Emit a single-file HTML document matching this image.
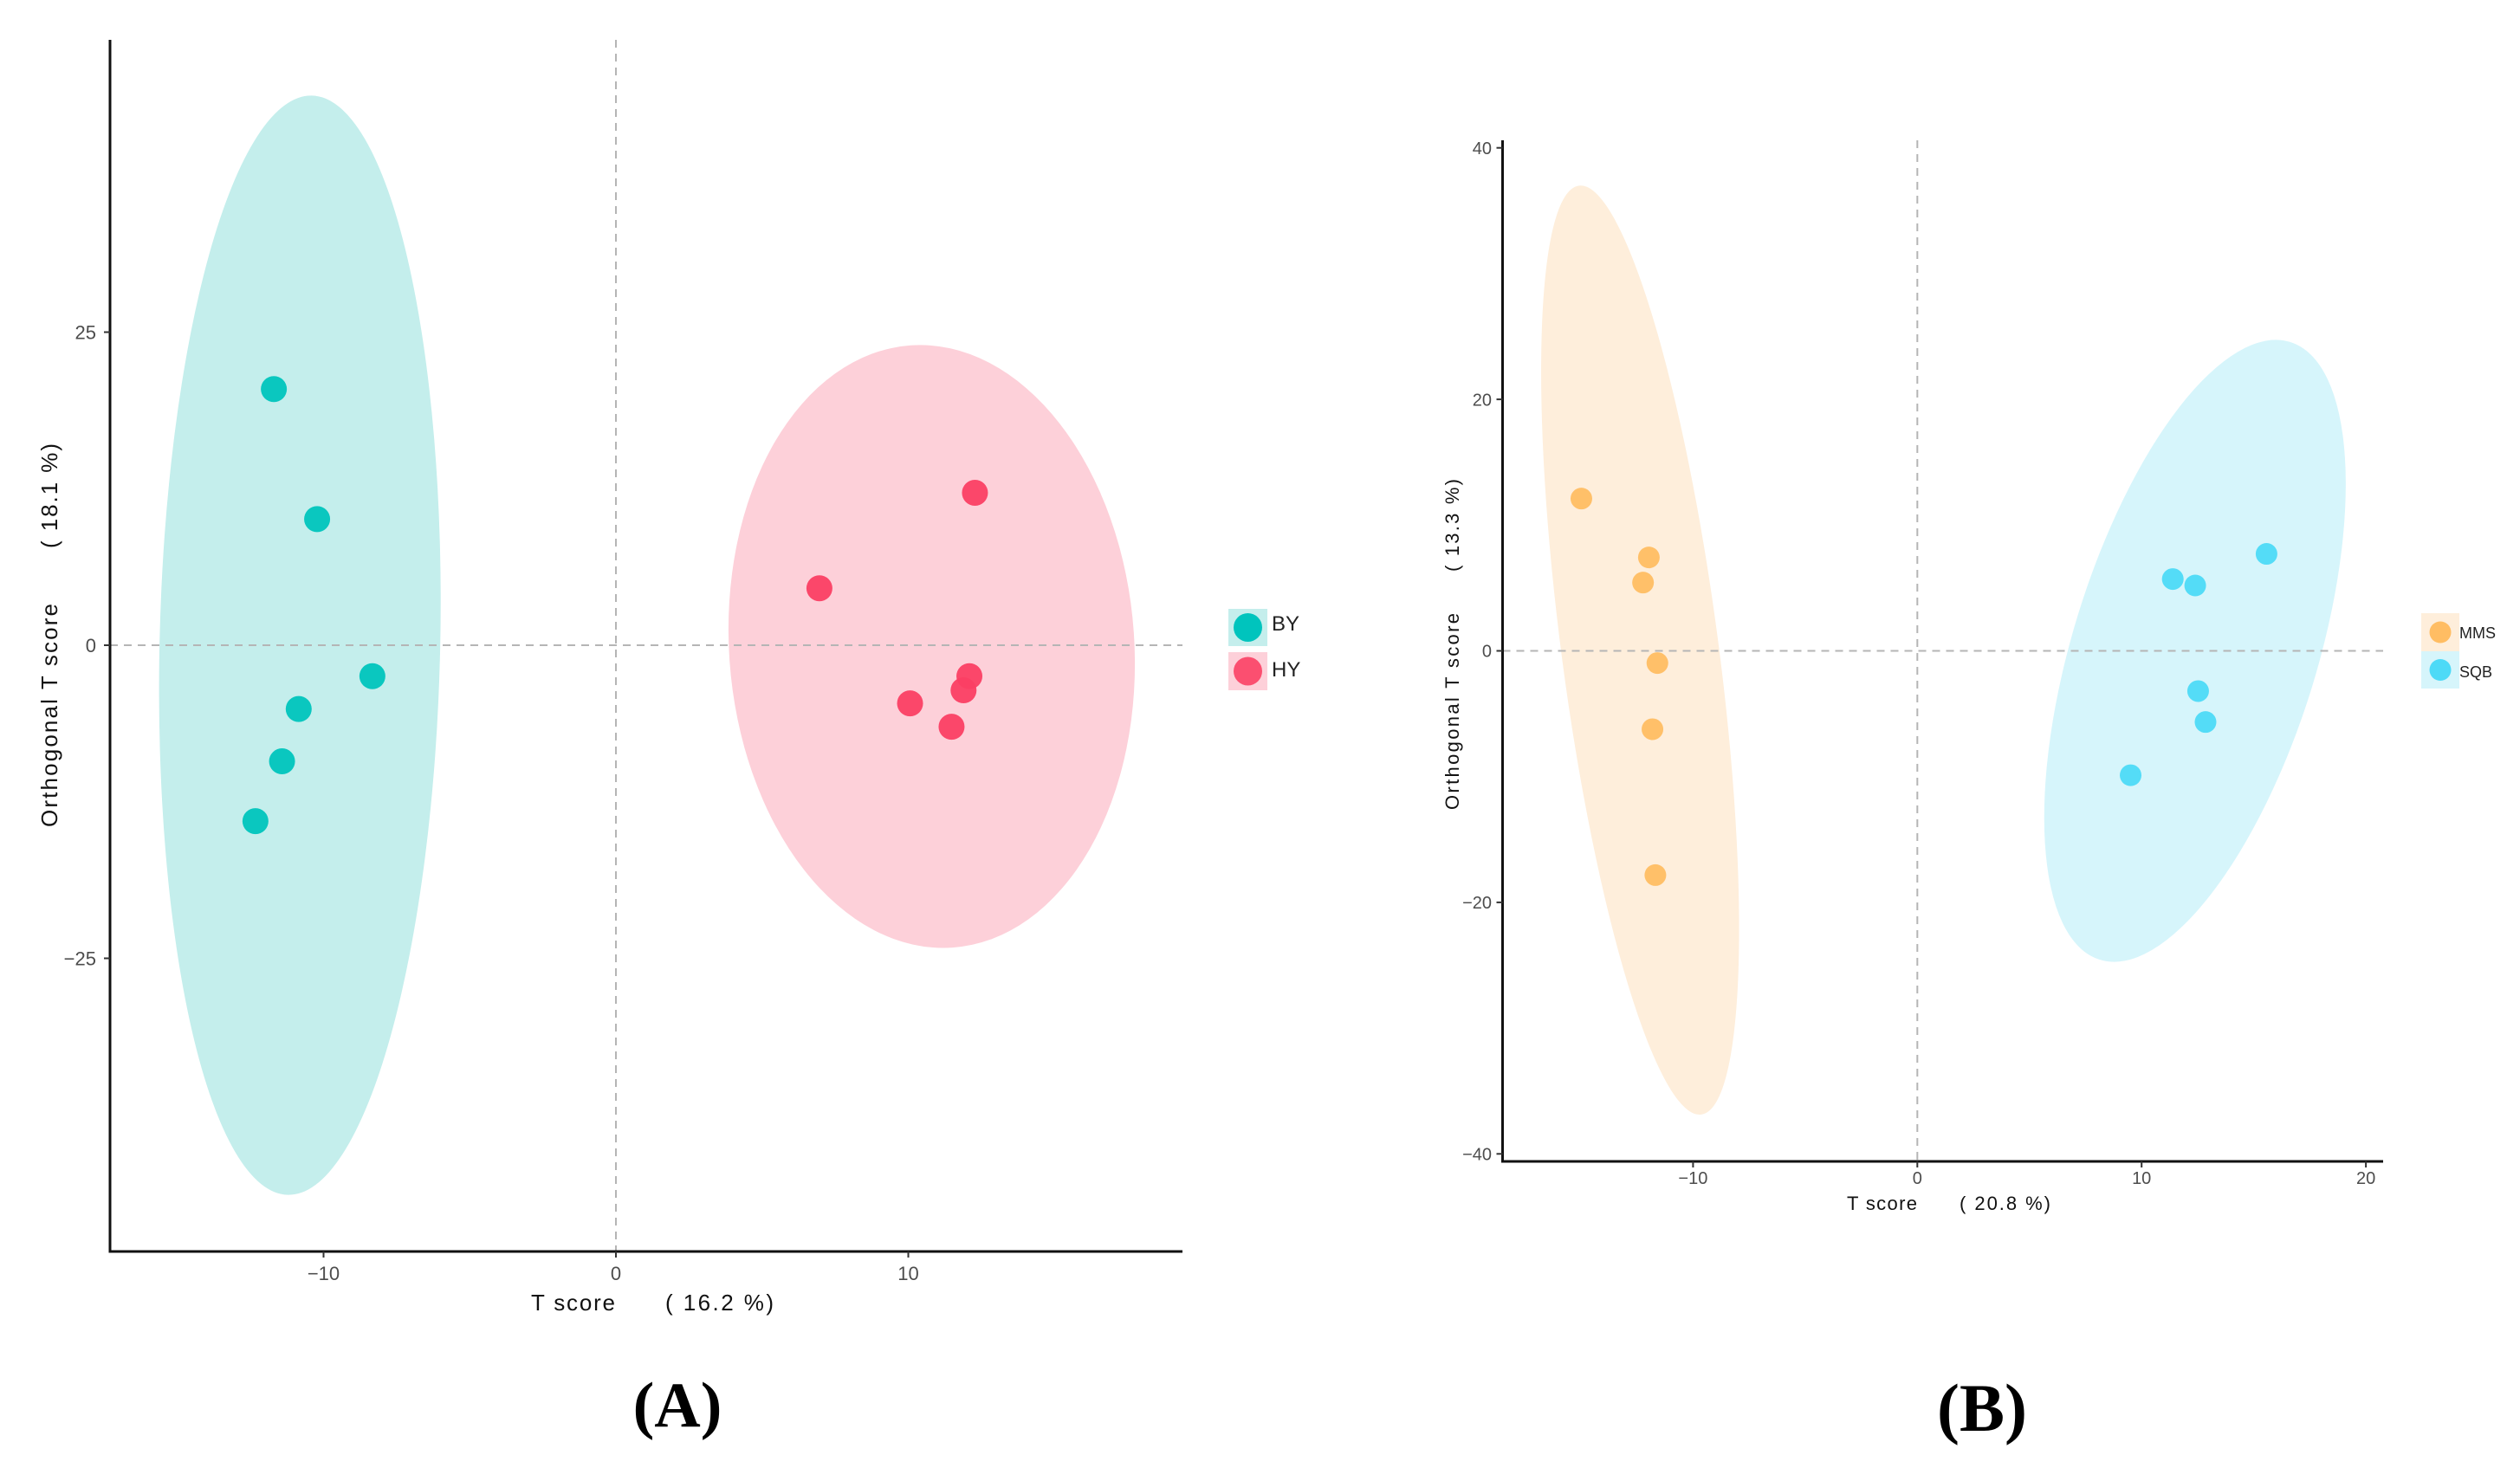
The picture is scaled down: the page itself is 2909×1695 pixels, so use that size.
<!DOCTYPE html>
<html><head><meta charset="utf-8"><style>
html,body{margin:0;padding:0;background:#fff;}
svg{display:block;font-family:"Liberation Sans",sans-serif;}
</style></head><body>
<svg id="fig" width="2909" height="1695" viewBox="0 0 2909 1695">
 <g id="panelA"></g>
 <g id="panelB"></g>
 <text x="782" y="1647" text-anchor="middle" font-family="Liberation Serif,serif" font-weight="bold" font-size="74">(A)</text>
 <text x="2288" y="1652" text-anchor="middle" font-family="Liberation Serif,serif" font-weight="bold" font-size="78">(B)</text>
</svg>
<script>
// ---- Panel A data ----
const aXTicks = [-10, 0, 10];
const aYTicks = [-25, 0, 25];
const aByX = [-11.7, -10.22, -8.33, -10.85, -11.42, -12.33];
const aByY = [20.45, 10.07, -2.47, -5.09, -9.27, -14.05];
const aHyX = [6.96, 12.28, 12.09, 11.89, 10.06, 11.48];
const aHyY = [4.55, 12.17, -2.47, -3.6, -4.64, -6.51];
const aEllBY = [-10.81, 0, 4.8, 43.9, 1.25];   // cx, cy, rx, ry, angle
const aEllHY = [10.8, -0.1, 6.93, 24.1, -4];
// ---- Panel B data ----
const bXTicks = [-10, 0, 10, 20];
const bYTicks = [-40, -20, 0, 20, 40];
const bMmsX = [-14.98, -11.97, -12.23, -11.59, -11.81, -11.68];
const bMmsY = [12.11, 7.43, 5.43, -0.97, -6.23, -17.83];
const bSqbX = [11.39, 12.39, 15.57, 12.52, 12.85, 9.51];
const bSqbY = [5.71, 5.2, 7.71, -3.2, -5.66, -9.89];
const bEllMMS = [-12.36, 0.06, 3.5, 37.25, -7.5];
const bEllSQB = [12.38, 0, 5.46, 25.7, 17.1];

const NS = "http://www.w3.org/2000/svg";
function mk(parent, tag, attrs, text){
  const e = document.createElementNS(NS, tag);
  for (const k in attrs) e.setAttribute(k, attrs[k]);
  if (text !== undefined) e.textContent = text;
  parent.appendChild(e);
  return e;
}

function drawPanel(g, cfg){
  const sx = v => cfg.x0 + v * cfg.kx;
  const sy = v => cfg.y0 - v * cfg.ky;
  cfg.ells.forEach((el, i) => {
    const cx = sx(el[0]), cy = sy(el[1]);
    const e = mk(g, 'ellipse', {cx: cx, cy: cy, rx: el[2]*cfg.kx, ry: el[3]*cfg.ky, fill: cfg.ellFill[i],
      transform: 'rotate(' + el[4] + ' ' + cx + ' ' + cy + ')'});
    
    
  });
  const h = mk(g, 'line', {x1: cfg.axL, x2: cfg.axR, y1: sy(0), y2: sy(0), stroke: '#b5b5b5', 'stroke-width': 2, 'stroke-dasharray': '9 7'});
  
  
  const v = mk(g, 'line', {x1: sx(0), x2: sx(0), y1: cfg.axT, y2: cfg.axB, stroke: '#b5b5b5', 'stroke-width': 2, 'stroke-dasharray': '9 7'});
  
  
  cfg.series.forEach((s, i) => {
    s[0].forEach((xv, j) => {
      const c = mk(g, 'circle', {cx: sx(xv), cy: sy(s[1][j]), r: cfg.r, fill: cfg.ptFill[i], 'fill-opacity': cfg.ptOp});
      
      
    });
  });
  const ya = mk(g, 'line', {x1: cfg.axL, x2: cfg.axL, y1: cfg.axT, y2: cfg.axB + 1.5, stroke: '#111', 'stroke-width': 3});
  
  
  const xa = mk(g, 'line', {x1: cfg.axL - 1.5, x2: cfg.axR, y1: cfg.axB, y2: cfg.axB, stroke: '#111', 'stroke-width': 3});
  
  
  cfg.xt.forEach(t => {
    const tk = mk(g, 'line', {x1: sx(t), x2: sx(t), y1: cfg.axB, y2: cfg.axB + 7, stroke: '#333', 'stroke-width': 2});
    
    
    const tl = mk(g, 'text', {x: sx(t), y: cfg.xtY, 'text-anchor': 'middle', 'font-size': cfg.tfs, fill: '#4d4d4d'}, t < 0 ? '\u2212' + (-t) : String(t));
    
    
  });
  cfg.yt.forEach(t => {
    const tk = mk(g, 'line', {x1: cfg.axL - 7, x2: cfg.axL, y1: sy(t), y2: sy(t), stroke: '#333', 'stroke-width': 2});
    
    
    const tl = mk(g, 'text', {x: cfg.ytX, y: sy(t) + cfg.tfs*0.36, 'text-anchor': 'end', 'font-size': cfg.tfs, fill: '#4d4d4d'}, t < 0 ? '\u2212' + (-t) : String(t));
    
    
  });
}

const gA = document.getElementById('panelA');
drawPanel(gA, {x0: 711, kx: 33.75, y0: 745, ky: 14.46, axL: 127, axR: 1365, axT: 46, axB: 1445,
  ells: [aEllBY, aEllHY], ellFill: ['#c4eeec', '#fdd0d9'], names: ['by', 'hy'],
  series: [[aByX, aByY], [aHyX, aHyY]], ptFill: ['#00c4bd', '#fb3f64'], ptOp: 0.95, r: 15,
  xt: aXTicks, yt: aYTicks, xtY: 1478, ytX: 111, tfs: 22});

const gB = document.getElementById('panelB');
drawPanel(gB, {x0: 2213.3, kx: 25.89, y0: 751.5, ky: 14.52, axL: 1734.5, axR: 2751, axT: 162, axB: 1341,
  ells: [bEllMMS, bEllSQB], ellFill: ['#feeedb', '#d6f5fb'], names: ['mms', 'sqb'],
  series: [[bMmsX, bMmsY], [bSqbX, bSqbY]], ptFill: ['#ffbd63', '#4ddaf7'], ptOp: 0.95, r: 12.5,
  xt: bXTicks, yt: bYTicks, xtY: 1367, ytX: 1722, tfs: 20});

function txt(g, attrs, s, name){
  const t = mk(g, 'text', attrs, s);
  
  
}
txt(gA, {x: 613, y: 1513, 'font-size': 26, fill: '#111', textLength: 97}, 'T score', 'x-axis-title');
txt(gA, {x: 768, y: 1513, 'font-size': 26, fill: '#111', textLength: 125}, '( 16.2 %)', 'x-axis-title-pct');
txt(gA, {x: 0, y: 0, 'font-size': 26, fill: '#111', textLength: 258, transform: 'translate(66,955) rotate(-90)'}, 'Orthogonal T score', 'y-axis-title');
txt(gA, {x: 0, y: 0, 'font-size': 26, fill: '#111', textLength: 121, transform: 'translate(66,633) rotate(-90)'}, '( 18.1 %)', 'y-axis-title-pct');
txt(gB, {x: 2132, y: 1397, 'font-size': 22, fill: '#111', textLength: 81}, 'T score', 'x-axis-title');
txt(gB, {x: 2262, y: 1397, 'font-size': 22, fill: '#111', textLength: 105}, '( 20.8 %)', 'x-axis-title-pct');
txt(gB, {x: 0, y: 0, 'font-size': 22, fill: '#111', textLength: 227, transform: 'translate(1684,935) rotate(-90)'}, 'Orthogonal T score', 'y-axis-title');
txt(gB, {x: 0, y: 0, 'font-size': 22, fill: '#111', textLength: 107, transform: 'translate(1684,660) rotate(-90)'}, '( 13.3 %)', 'y-axis-title-pct');

function legend(g, x, y, w, hgt, boxFill, ptFill, r, label, fs, tx, ty, name){
  const b = mk(g, 'rect', {x: x, y: y, width: w, height: hgt, fill: boxFill});
  
  
  const c = mk(g, 'circle', {cx: x + w/2, cy: y + hgt/2, r: r, fill: ptFill});
  
  
  const t = mk(g, 'text', {x: tx, y: ty, 'font-size': fs, fill: '#222'}, label);
  
  
}
legend(gA, 1418, 703, 45, 43, '#c4eeec', '#00c4bd', 16.5, 'BY', 24, 1468, 728, 'legend-by');
legend(gA, 1418, 753, 45, 44, '#fdd0d9', '#fb4f70', 16.5, 'HY', 24, 1468, 781, 'legend-hy');
legend(gB, 2795, 708, 44, 44, '#feeedb', '#ffbd63', 12.5, 'MMS', 18, 2839, 737, 'legend-mms');
legend(gB, 2795, 752, 44, 43, '#d6f5fb', '#4ddaf7', 12.5, 'SQB', 18, 2839, 782, 'legend-sqb');
</script>
</body></html>
